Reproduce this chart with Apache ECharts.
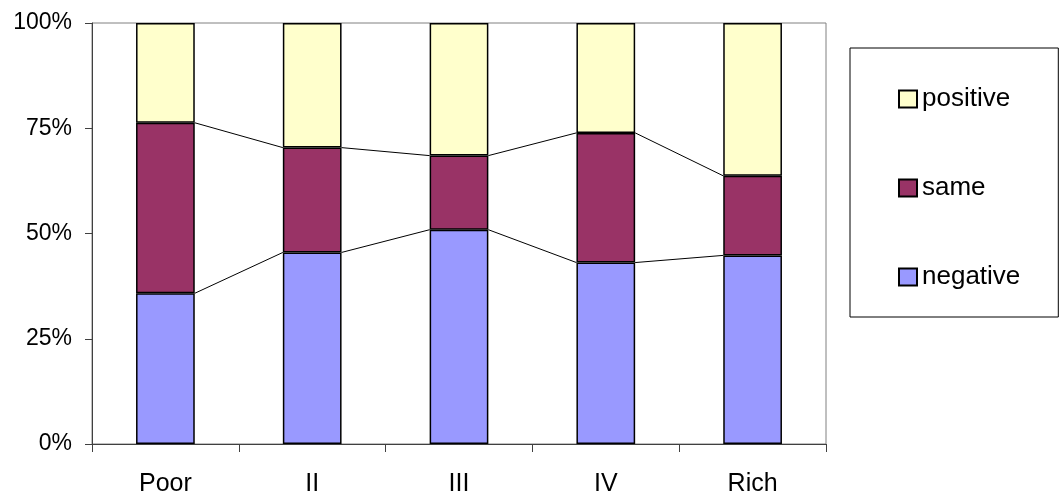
<!DOCTYPE html>
<html>
<head>
<meta charset="utf-8">
<script src="https://cdn.jsdelivr.net/npm/echarts@6/dist/echarts.min.js"></script>
<style>html,body{margin:0;padding:0;background:#fff;}#c{width:1059px;height:497px;}</style>
</head>
<body>
<div id="c"></div>
<script>
const categories = ['Poor', 'II', 'III', 'IV', 'Rich'];
const negative = [35.8, 45.5, 50.9, 43.1, 44.8];
const same = [40.5, 24.9, 17.6, 30.8, 18.9];
const positive = [23.7, 29.6, 31.5, 26.1, 36.3];
const yTicks = [0, 25, 50, 75, 100];

const BAR_RATIO = 0.40;
const cumNeg = negative.slice();
const cumSame = negative.map((v, i) => v + same[i]);

function connectorData(cum) {
  return cum.map((v, i) => [i, v, i + 1 < cum.length ? cum[i + 1] : null]);
}
function renderConnector(params, api) {
  const next = api.value(2);
  if (next === null || next === undefined || isNaN(next)) return null;
  const i = api.value(0);
  const p0 = api.coord([i, api.value(1)]);
  const p1 = api.coord([i + 1, next]);
  const half = api.size([1, 0])[0] * BAR_RATIO / 2;
  return {
    type: 'line',
    shape: { x1: p0[0] + half, y1: p0[1], x2: p1[0] - half, y2: p1[1] },
    style: { stroke: '#000', lineWidth: 1 }
  };
}

const chart = echarts.init(document.getElementById('c'), null, { renderer: 'canvas' });
const barStyle = (c) => ({ color: c, borderColor: '#000', borderWidth: 1.5 });
chart.setOption({
  animation: false,
  backgroundColor: '#fff',
  textStyle: { fontFamily: 'Liberation Sans, Arial, sans-serif' },
  grid: { left: 92, right: 233, top: 23, bottom: 52, show: true, borderColor: '#808080', borderWidth: 1, backgroundColor: 'transparent' },
  legend: {
    orient: 'vertical',
    left: 850, top: 48,
    padding: [38, 38, 27, 48],
    itemGap: 63,
    itemWidth: 18, itemHeight: 17,
    backgroundColor: '#fff', borderColor: '#000', borderWidth: 1,
    textStyle: { fontSize: 26, color: '#000', fontFamily: 'Liberation Sans, Arial, sans-serif' },
    data: [
      { name: 'positive', icon: 'rect' },
      { name: 'same', icon: 'rect' },
      { name: 'negative', icon: 'rect' }
    ]
  },
  xAxis: {
    type: 'category',
    data: categories,
    boundaryGap: true,
    axisLine: { lineStyle: { color: '#404040', width: 1 } },
    axisTick: { show: true, length: 8, lineStyle: { color: '#404040' } },
    axisLabel: { fontSize: 25, color: '#000', margin: 28 }
  },
  yAxis: {
    type: 'value',
    min: 0, max: 100, interval: 25,
    axisLine: { show: true, lineStyle: { color: '#404040', width: 1 } },
    axisTick: { show: true, length: 7, lineStyle: { color: '#404040' } },
    splitLine: { show: false },
    axisLabel: { fontSize: 23, color: '#000', margin: 20, formatter: (v) => yTicks.includes(v) ? v + '%' : '' }
  },
  series: [
    { name: 'negative', type: 'bar', stack: 's', barWidth: (BAR_RATIO * 100) + '%', data: negative, itemStyle: barStyle('#9999FF') },
    { name: 'same', type: 'bar', stack: 's', data: same, itemStyle: barStyle('#993366') },
    { name: 'positive', type: 'bar', stack: 's', data: positive, itemStyle: barStyle('#FFFFCC') },
    { type: 'custom', renderItem: renderConnector, data: connectorData(cumNeg), encode: { x: 0, y: 1 }, silent: true, z: 5 },
    { type: 'custom', renderItem: renderConnector, data: connectorData(cumSame), encode: { x: 0, y: 1 }, silent: true, z: 5 }
  ]
});
</script>
</body>
</html>
